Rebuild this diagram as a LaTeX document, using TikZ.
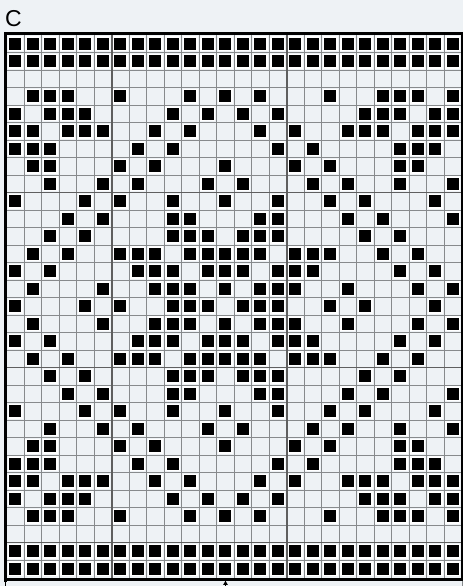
\documentclass[tikz,border=0pt]{standalone}
\usepackage{fontspec}
\setmainfont{Liberation Sans}
\definecolor{bg}{RGB}{238,242,245}
\definecolor{gridgray}{RGB}{135,138,140}
\definecolor{majorgray}{RGB}{95,95,95}
\newcommand{\knitcell}[2]{%
  \fill[white] ({6.7+17.5*(#1)+1.25},{35+17.5*(#2)+1.25}) rectangle ++(15,15);
  \fill[black] ({6.7+17.5*(#1)+2.75},{35+17.5*(#2)+2.75}) rectangle ++(12,12);}
\tikzset{
  thinline/.style={draw=gridgray, line width=0.9pt},
  majorline/.style={draw=majorgray, line width=1.6pt},
  borderline/.style={draw=black, line width=2.8pt},
}
\begin{document}
\begin{tikzpicture}[x=1pt,y=-1pt]
\fill[bg] (0,0) rectangle (463,586);
\useasboundingbox (0,0) rectangle (463,586);
\node[anchor=base west, inner sep=0pt, font=\fontsize{23}{23}\selectfont] (lbl) at (5,26.7) {C};
% border rows
\foreach \c in {0,...,25} {
  \knitcell{\c}{0} \knitcell{\c}{1} \knitcell{\c}{29} \knitcell{\c}{30}
}
% pattern rows (mirrored about row 15)
\foreach \r/\cols in {
  3/{1,2,3,6,10,12,14,18,21,22,23,25},
  4/{0,2,3,4,9,11,13,15,20,21,22,24,25},
  5/{0,1,3,4,5,8,10,14,16,19,20,21,23,24,25},
  6/{0,1,2,7,9,15,17,22,23,24},
  7/{1,2,6,8,12,16,18,22,23},
  8/{2,5,7,11,13,17,19,22,25},
  9/{0,4,6,9,12,15,18,20,24},
  10/{3,5,9,10,14,15,19,21,25},
  11/{2,4,9,10,11,13,14,15,20,22},
  12/{1,3,6,7,8,10,11,12,13,14,16,17,18,21,23},
  13/{0,2,7,8,9,11,12,13,15,16,17,22,24},
  14/{1,5,8,9,10,12,14,15,16,19,23,25},
  15/{0,4,6,9,10,11,13,14,15,18,20,24}} {
  \foreach \c in \cols {
    \knitcell{\c}{\r}
    \knitcell{\c}{30-\r}
  }
}
% grid lines
\foreach \c in {1,...,25} \draw[thinline] ({6.7+17.5*\c},35) -- ++(0,542.5);
\foreach \r in {1,...,30} \draw[thinline] (6.7,{35+17.5*\r}) -- ++(455,0);
\foreach \c in {6,16} \draw[majorline] ({6.7+17.5*\c},35) -- ++(0,542.5);
\foreach \r in {9,19,29} \draw[majorline] (6.7,{35+17.5*\r}) -- ++(455,0);
% borders
\draw[borderline] (4,33.7) -- (463,33.7);
\draw[borderline] (4,579.2) -- (463,579.2);
\draw[borderline] (5.3,32.3) -- (5.3,582);
\draw[black, line width=1pt] (5.3,582) -- (5.3,586);
\draw[black, line width=2pt] (462.3,32.3) -- (462.3,580.5);
\draw[gridgray, line width=0.8pt] (461.9,580.5) -- (461.9,586);
% centre marker
\coordinate (mk) at (225.5,580.8);
\fill[black] (mk) -- ++(-2.3,4) -- ++(4.6,0) -- cycle;
\fill[black] (225,584.5) rectangle (226,586);
\end{tikzpicture}
\end{document}
